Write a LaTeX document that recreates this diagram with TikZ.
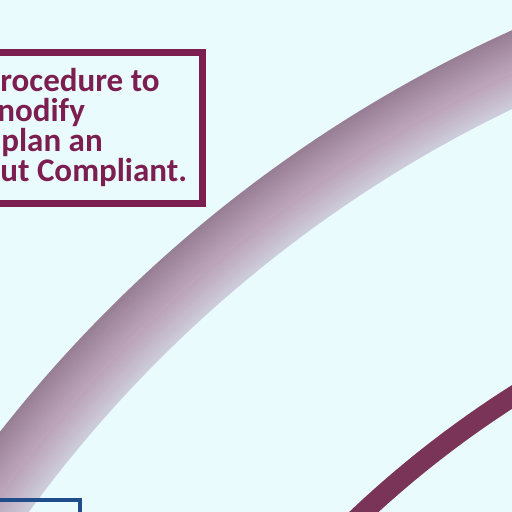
\documentclass[tikz,border=0pt]{standalone}
\usepackage{fontspec}
\setmainfont{Carlito}
\definecolor{fondo}{RGB}{233,251,253}
\definecolor{granate}{RGB}{124,30,80}
\definecolor{arcofino}{RGB}{122,52,88}
\definecolor{bandaext}{RGB}{152,127,150}
\definecolor{bandamed}{RGB}{188,165,186}
\definecolor{bandaint}{RGB}{205,204,219}
\definecolor{azul}{RGB}{31,78,138}
\begin{document}
\begin{tikzpicture}[
  texto/.style={anchor=base west, inner sep=0pt, align=left, text=granate, font=\fontsize{18.8}{17.1}\selectfont\bfseries},
  marco/.style={draw=granate, line width=1.3mm},
  marcoazul/.style={draw=azul, line width=0.8mm}
]
  \useasboundingbox (0,0) rectangle (10.24,10.24);
  \clip (0,0) rectangle (10.24,10.24);
  \fill[fondo] (0,0) rectangle (10.24,10.24);

  % Centro comun de los dos arcos (fuera del cuadro)
  \coordinate (ctr) at (21.4,-15.16);

  % Banda ancha con degradado, por franjas
  \foreach \i in {0,...,27}{
    \pgfmathsetmacro\rr{25.76+(\i+0.5)*0.0507}
    \ifnum\i<13
      \pgfmathtruncatemacro\p{100*\i/12}
      \colorlet{franja}{bandamed!\p!bandaint}
    \else
      \pgfmathtruncatemacro\p{100*(\i-13)/14}
      \colorlet{franja}{bandaext!\p!bandamed}
    \fi
    \draw[franja, line width=0.6mm] (ctr) circle[radius=\rr];
  }

  % Arco fino granate
  \draw[arcofino, line width=4mm] (ctr) circle[radius=20.72];

  % Recuadro con el texto
  \draw[marco] (-1,9.19) -- (4.05,9.19) -- (4.05,6.17) -- (-1,6.17);
  \node[texto] (txt) at (0,6.60) {rocedure to\\\hspace*{-0.06cm}nodify\\\hspace*{0.02cm}plan an\\ut Compliant.};

  % Recuadro azul abajo
  \draw[marcoazul] (-1,0.24) -- (1.6,0.24) -- (1.6,-1);
\end{tikzpicture}
\end{document}
